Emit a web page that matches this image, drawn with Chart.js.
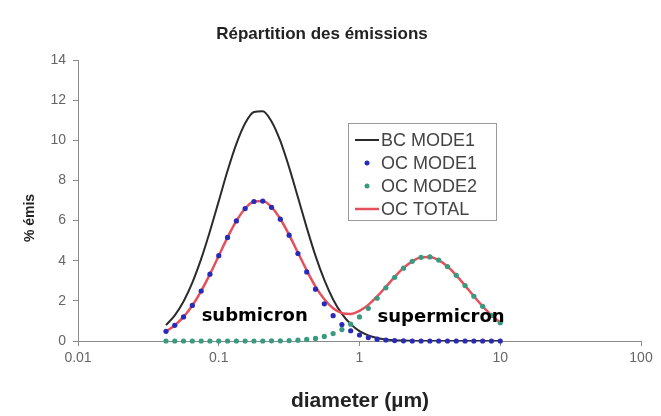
<!DOCTYPE html>
<html>
<head>
<meta charset="utf-8">
<script src="https://cdn.jsdelivr.net/npm/chart.js@4.4.0/dist/chart.umd.min.js"></script>
<style>
  html, body { margin: 0; padding: 0; background: #ffffff; }
  canvas { display: block; }
</style>
</head>
<body>
<canvas id="chart" width="661" height="416"></canvas>
<script>
// Particle diameters (µm), 16 bins per decade
const diameters = [
  0.0422, 0.0487, 0.0562, 0.0649, 0.0750, 0.0866, 0.1000, 0.1155, 0.1334, 0.1540,
  0.1778, 0.2054, 0.2371, 0.2738, 0.3162, 0.3652, 0.4217, 0.4870, 0.5623, 0.6494,
  0.7499, 0.8660, 1.000, 1.155, 1.334, 1.540, 1.778, 2.054, 2.371, 2.738,
  3.162, 3.652, 4.217, 4.870, 5.623, 6.494, 7.499, 8.660, 10.00
];

// % of emissions per bin
const bcMode1 = [
  0.79, 1.28, 1.97, 2.91, 4.09, 5.47, 6.97, 8.48, 9.82, 10.85,
  11.41, 11.45, 10.94, 9.97, 8.65, 7.16, 5.65, 4.24, 3.04, 2.07,
  1.35, 0.84, 0.49, 0.28, 0.15, 0.08, 0.04, 0.02, 0.01, 0,
  0, 0, 0, 0, 0, 0, 0, 0, 0
];
const ocMode1 = [
  0.48, 0.78, 1.20, 1.77, 2.49, 3.33, 4.25, 5.16, 5.98, 6.60,
  6.95, 6.97, 6.66, 6.07, 5.27, 4.36, 3.44, 2.58, 1.85, 1.26,
  0.82, 0.51, 0.30, 0.17, 0.09, 0.05, 0.02, 0.01, 0, 0,
  0, 0, 0, 0, 0, 0, 0, 0, 0
];
const ocMode2 = [
  0, 0, 0, 0, 0, 0, 0, 0, 0, 0,
  0, 0, 0.01, 0.01, 0.02, 0.04, 0.08, 0.13, 0.23, 0.37,
  0.57, 0.84, 1.20, 1.63, 2.13, 2.65, 3.17, 3.63, 3.97, 4.17,
  4.19, 4.03, 3.71, 3.27, 2.76, 2.23, 1.73, 1.28, 0.91
];
const ocTotal = [
  0.48, 0.78, 1.20, 1.77, 2.49, 3.33, 4.25, 5.16, 5.98, 6.60,
  6.95, 6.97, 6.67, 6.08, 5.29, 4.40, 3.52, 2.71, 2.08, 1.63,
  1.39, 1.35, 1.50, 1.80, 2.22, 2.70, 3.19, 3.64, 3.97, 4.17,
  4.19, 4.03, 3.71, 3.27, 2.76, 2.23, 1.73, 1.28, 0.91
];

const xTickValues = [0.01, 0.1, 1, 10, 100];
const yTickValues = [0, 2, 4, 6, 8, 10, 12, 14];

const seriesNames = ['BC MODE1', 'OC MODE1', 'OC MODE2', 'OC TOTAL'];
const annotations = [
  { text: 'submicron', x: 0.18, y: 1.25 },
  { text: 'supermicron', x: 3.8, y: 1.2 }
];

const toPoints = arr => diameters.map((d, i) => ({ x: d, y: arr[i] }));

const COLORS = {
  bc: '#2b2b2b',
  oc1: '#2a2ab8',
  oc2: '#3a9a80',
  total: '#e4505c'
};

const FONT = '"Liberation Sans", Arial, sans-serif';

// Titles, in-plot labels and the framed legend
const decorations = {
  id: 'decorations',
  afterDraw(chart) {
    const ctx = chart.ctx;
    const xs = chart.scales.x, ys = chart.scales.y;
    ctx.save();

    // main title
    ctx.fillStyle = '#222';
    ctx.font = 'bold 17px ' + FONT;
    ctx.textAlign = 'center';
    ctx.textBaseline = 'middle';
    ctx.fillText('Répartition des émissions', 322, 34);

    // x axis title
    ctx.font = 'bold 21px ' + FONT;
    ctx.fillText('diameter (µm)', 360, 401);

    // y axis title
    ctx.save();
    ctx.translate(30, 218);
    ctx.rotate(-Math.PI / 2);
    ctx.font = 'bold 14px ' + FONT;
    ctx.fillText('% émis', 0, 0);
    ctx.restore();

    // size range labels
    ctx.fillStyle = '#000';
    ctx.font = 'bold 18px "DejaVu Sans", sans-serif';
    annotations.forEach(a => {
      ctx.fillText(a.text, xs.getPixelForValue(a.x), ys.getPixelForValue(a.y));
    });

    // legend
    const lx = 348, ly = 123, lw = 148, lh = 97;
    ctx.fillStyle = '#fff';
    ctx.fillRect(lx, ly, lw, lh);
    ctx.strokeStyle = '#9a9a9a';
    ctx.lineWidth = 1;
    ctx.strokeRect(lx + 0.5, ly + 0.5, lw, lh);
    const rows = [
      { kind: 'line', color: COLORS.bc, width: 2 },
      { kind: 'dot', color: COLORS.oc1 },
      { kind: 'dot', color: COLORS.oc2 },
      { kind: 'line', color: COLORS.total, width: 2.5 }
    ];
    ctx.textAlign = 'left';
    ctx.font = '18px ' + FONT;
    rows.forEach((r, i) => {
      const y = ly + 17 + i * 23;
      if (r.kind === 'line') {
        ctx.strokeStyle = r.color;
        ctx.lineWidth = r.width;
        ctx.beginPath();
        ctx.moveTo(355, y);
        ctx.lineTo(379, y);
        ctx.stroke();
      } else {
        ctx.fillStyle = r.color;
        ctx.beginPath();
        ctx.arc(367, y, 2.5, 0, Math.PI * 2);
        ctx.fill();
      }
      ctx.fillStyle = '#444';
      ctx.fillText(seriesNames[i], 381, y + 1);
    });

    ctx.restore();
  }
};

new Chart(document.getElementById('chart'), {
  type: 'line',
  data: {
    datasets: [
      {
        label: seriesNames[0], data: toPoints(bcMode1),
        borderColor: COLORS.bc, borderWidth: 2, pointRadius: 0,
        tension: 0.4, cubicInterpolationMode: 'monotone', order: 2
      },
      {
        label: seriesNames[1], data: toPoints(ocMode1), showLine: false,
        pointRadius: 2.6, pointBackgroundColor: COLORS.oc1,
        pointBorderWidth: 0, borderColor: COLORS.oc1, order: 0, clip: false
      },
      {
        label: seriesNames[2], data: toPoints(ocMode2), showLine: false,
        pointRadius: 2.6, pointBackgroundColor: COLORS.oc2,
        pointBorderWidth: 0, borderColor: COLORS.oc2, order: 0, clip: false
      },
      {
        label: seriesNames[3], data: toPoints(ocTotal),
        borderColor: COLORS.total, borderWidth: 2.5, pointRadius: 0,
        tension: 0.4, cubicInterpolationMode: 'monotone', order: 1
      }
    ]
  },
  options: {
    responsive: false,
    animation: false,
    devicePixelRatio: 1,
    layout: { padding: { top: 60, right: 20, left: 0, bottom: 0 } },
    plugins: {
      legend: { display: false },
      tooltip: { enabled: false },
      title: { display: false }
    },
    scales: {
      x: {
        type: 'logarithmic',
        min: 0.01,
        max: 100,
        afterBuildTicks: s => { s.ticks = xTickValues.map(v => ({ value: v })); },
        afterFit: s => { s.height = 75; },
        ticks: {
          callback: v => String(v),
          color: '#666',
          font: { family: FONT, size: 14 },
          padding: 4,
          maxRotation: 0,
          autoSkip: false
        },
        grid: { drawOnChartArea: false, drawTicks: true, tickLength: 5, color: '#8a8a8a' },
        border: { color: '#8a8a8a', width: 1 }
      },
      y: {
        min: 0,
        max: 14,
        afterBuildTicks: s => { s.ticks = yTickValues.map(v => ({ value: v })); },
        afterFit: s => { s.width = 78; },
        ticks: {
          color: '#666',
          font: { family: FONT, size: 14 },
          padding: 7
        },
        grid: { drawOnChartArea: false, drawTicks: true, tickLength: 5, color: '#8a8a8a' },
        border: { color: '#8a8a8a', width: 1 }
      }
    }
  },
  plugins: [decorations]
});
</script>
</body>
</html>
